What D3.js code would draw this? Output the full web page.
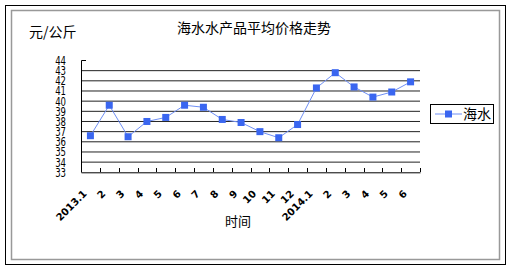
<!DOCTYPE html>
<html>
<head>
<meta charset="utf-8">
<script src="https://cdn.jsdelivr.net/npm/d3@7"></script>
<style>
  body { margin: 0; background: #fff; }
  text { font-family: "Noto Sans CJK SC", "DejaVu Sans", sans-serif; fill: #000; }
</style>
</head>
<body>
<div id="chart"></div>
<script>
// categories: months from 2013.1 to 2014.6
var months = ["2013.1", "2", "3", "4", "5", "6", "7", "8", "9", "10", "11", "12",
              "2014.1", "2", "3", "4", "5", "6"];
// seawater product average price (yuan/kg)
var seaValues = [36.6, 39.6, 36.5, 38.0, 38.4, 39.6, 39.4, 38.2, 37.9, 37.0, 36.4, 37.7,
                 41.3, 42.8, 41.4, 40.4, 40.9, 41.9];
var yTicks = [33, 34, 35, 36, 37, 38, 39, 40, 41, 42, 43, 44];

var W = 511, H = 270;
var svg = d3.select("#chart").append("svg")
    .attr("width", W)
    .attr("height", H);

// outer frame + inner chart area box
svg.append("rect").attr("x", 5.5).attr("y", 5.5).attr("width", 500).attr("height", 259)
    .attr("fill", "#fff").attr("stroke", "#000");
svg.append("rect").attr("x", 11.5).attr("y", 10.5).attr("width", 488).attr("height", 249)
    .attr("fill", "none").attr("stroke", "#999").attr("stroke-width", 1.5);

// titles
svg.append("text").attr("x", 254).attr("y", 33).attr("text-anchor", "middle")
    .style("font-size", "14px").text("海水水产品平均价格走势");
svg.append("text").attr("x", 29).attr("y", 37)
    .style("font-size", "14px").text("元/公斤");
svg.append("text").attr("x", 238).attr("y", 226).attr("text-anchor", "middle")
    .style("font-size", "13px").text("时间");

var x = d3.scaleBand().domain(d3.range(months.length)).range([81, 420]);
var y = d3.scaleLinear().domain([33, 44]).range([172.3, 60.5]);

// gridlines (no line at the top value)
svg.append("g").selectAll("line")
    .data(yTicks.filter(function (d) { return d > 33 && d < 44; }))
    .enter().append("line")
    .attr("x1", 81).attr("x2", 420)
    .attr("y1", function (d) { return y(d); })
    .attr("y2", function (d) { return y(d); })
    .attr("stroke", "#222").attr("stroke-width", 1);

// axes
var yAxis = svg.append("g").attr("transform", "translate(81,0)")
    .call(d3.axisLeft(y).tickValues(yTicks).tickSize(0).tickFormat(d3.format("d")));
yAxis.select(".domain").remove();
svg.append("line").attr("x1", 81.5).attr("x2", 81.5).attr("y1", 60.5).attr("y2", 172.5).attr("stroke", "#000");
svg.append("line").attr("x1", 81.5).attr("x2", 86).attr("y1", 60.5).attr("y2", 60.5).attr("stroke", "#000");
yAxis.selectAll("text")
    .attr("x", 0)
    .style("font-family", "'DejaVu Sans Condensed', 'DejaVu Sans', sans-serif")
    .style("font-size", "9.5px")
    .attr("text-anchor", "end")
    .attr("dy", "0.35em")
    .each(function () {
        var g = d3.select(this.parentNode);
        var ty = +g.attr("transform").match(/,([\d.]+)\)/)[1];
        g.attr("transform", "translate(-15," + ty + ") scale(1,1.2)");
    });

var xAxis = svg.append("g").attr("transform", "translate(0,172.3)")
    .call(d3.axisBottom(x).tickSize(0).tickFormat(function (i) { return months[i]; }));
xAxis.select(".domain").attr("stroke", "#000");
xAxis.selectAll("text")
    .style("font-family", "'DejaVu Sans', sans-serif")
    .style("font-size", "10px")
    .style("font-weight", "bold")
    .attr("text-anchor", "end")
    .attr("y", 0).attr("dy", 0)
    .attr("transform", "translate(-3,22) rotate(-45)");
// tick marks between categories
svg.append("g").selectAll("line")
    .data(d3.range(1, months.length + 1))
    .enter().append("line")
    .attr("x1", function (i) { return Math.round(81 + i * x.step()) + 0.5; })
    .attr("x2", function (i) { return Math.round(81 + i * x.step()) + 0.5; })
    .attr("y1", 168).attr("y2", 172)
    .attr("stroke", "#000");

// series line + markers
var cx = function (d, i) { return x(i) + x.bandwidth() / 2; };
svg.append("path")
    .datum(seaValues)
    .attr("d", d3.line().x(cx).y(function (d) { return y(d); }))
    .attr("fill", "none").attr("stroke", "#6f8ff5").attr("stroke-width", 1);
svg.append("g").selectAll("rect")
    .data(seaValues)
    .enter().append("rect")
    .attr("x", function (d, i) { return cx(d, i) - 3.5; })
    .attr("y", function (d) { return y(d) - 3.5; })
    .attr("width", 7).attr("height", 7)
    .attr("fill", "#3a66f0");

// legend
var lg = svg.append("g");
lg.append("rect").attr("x", 430.5).attr("y", 104.5).attr("width", 63).attr("height", 19)
    .attr("fill", "#fff").attr("stroke", "#000");
lg.append("line").attr("x1", 435).attr("x2", 462).attr("y1", 114).attr("y2", 114)
    .attr("stroke", "#6f8ff5");
lg.append("rect").attr("x", 445).attr("y", 110.5).attr("width", 7).attr("height", 7).attr("fill", "#3a66f0");
lg.append("text").attr("x", 463).attr("y", 119).style("font-size", "14px").text("海水");
</script>
</body>
</html>
